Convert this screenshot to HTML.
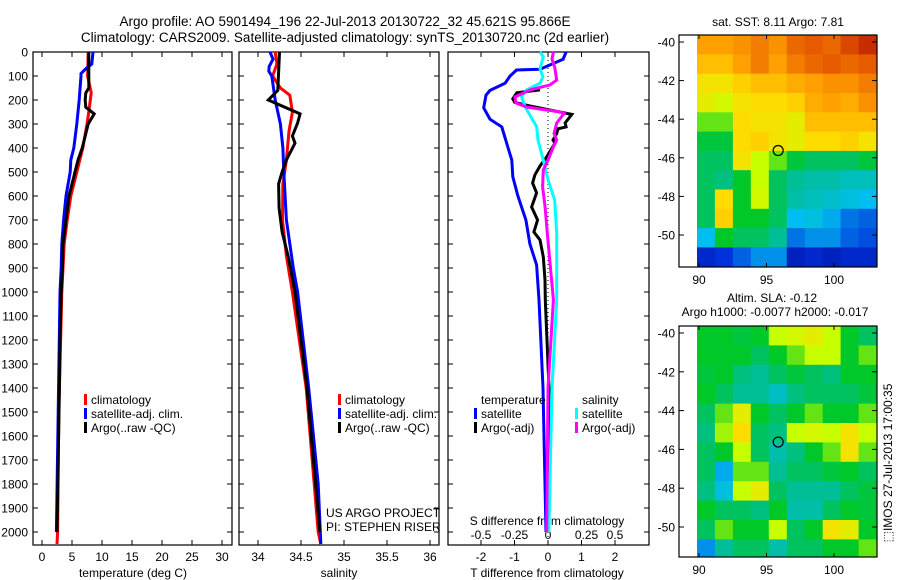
<!DOCTYPE html>
<html><head><meta charset="utf-8">
<style>
html,body{margin:0;padding:0;background:#fff;}
svg{display:block;font-family:"Liberation Sans",sans-serif;}
</style></head>
<body>
<svg id="fig" width="900" height="580" viewBox="0 0 900 580" xmlns="http://www.w3.org/2000/svg">
<text x="345" y="26" font-size="13.5" text-anchor="middle">Argo profile: AO 5901494_196 22-Jul-2013 20130722_32 45.621S 95.866E</text>
<text x="345" y="42" font-size="13.5" text-anchor="middle">Climatology: CARS2009. Satellite-adjusted climatology: synTS_20130720.nc (2d earlier)</text>
<g id="g"></g>
</svg>
<script>
// ---- depth ticks
const depthTicks=[0,100,200,300,400,500,600,700,800,900,1000,1100,1200,1300,1400,1500,1600,1700,1800,1900,2000];
const tempTicks=[0,5,10,15,20,25,30];
const salTicks=[34,34.5,35,35.5,36];
const salTickLabels=['34','34.5','35','35.5','36'];
const tdiffTicks=[-2,-1,0,1,2];
const sdiffTicks=[-0.5,-0.25,0,0.25,0.5];
const sdiffTickLabels=['-0.5','-0.25','0','0.25','0.5'];
// ---- temperature panel
const climTempDepth=[0,100,170,250,300,400,500,600,700,800,900,1000,1500,2000,2050];
const climTempVals=[7.7,7.6,8.2,7.8,7.5,6.8,5.8,4.8,4.2,3.7,3.5,3.3,2.8,2.6,2.5];
const satTempDepth=[0,50,70,90,100,200,300,400,450,500,600,700,800,900,1000,1500,2000];
const satTempVals=[8.5,8.3,7.3,6.5,6.5,6.2,5.8,5.3,4.8,4.7,4.0,3.6,3.3,3.2,3.0,2.7,2.4];
const argoTempDepth=[0,150,170,200,230,258,300,350,400,450,500,600,700,800,900,1000,1200,1400,1700,2000];
const argoTempVals=[7.8,7.8,7.3,7.2,7.3,8.7,7.7,7.2,6.7,6.0,5.5,4.5,4.0,3.5,3.4,3.2,3.0,2.9,2.7,2.5];
// ---- salinity panel
const climSalDepth=[0,50,100,150,180,250,330,450,550,700,850,1000,1400,2000,2050];
const climSalVals=[34.2,34.22,34.17,34.26,34.37,34.40,34.36,34.33,34.29,34.285,34.33,34.40,34.56,34.70,34.73];
const satSalDepth=[0,30,60,80,100,150,200,300,400,500,700,900,1000,1400,1800,2050];
const satSalVals=[34.14,34.175,34.13,34.125,34.16,34.18,34.2,34.26,34.29,34.30,34.33,34.41,34.46,34.59,34.70,34.73];
const argoSalDepth=[0,160,200,258,296,350,380,450,500,550,650,750,850,1000,1400,2000];
const argoSalVals=[34.25,34.23,34.12,34.49,34.46,34.40,34.43,34.33,34.28,34.24,34.245,34.28,34.35,34.43,34.57,34.72];
// ---- difference panel
const satTdiffDepth=[0,30,72,75,100,130,160,180,233,280,312,400,450,520,600,700,800,887,1033,1400,2000];
const satTdiffVals=[0.54,0.45,-0.24,-0.94,-1.13,-1.28,-1.73,-1.85,-1.92,-1.73,-1.38,-1.19,-1.08,-1.05,-0.9,-0.66,-0.54,-0.34,-0.27,-0.15,-0.06];
const argoTdiffDepth=[158,170,195,210,225,260,296,312,320,340,367,380,437,475,512,546,587,646,700,750,783,854,950,1033,1400,2000];
const argoTdiffVals=[-0.24,-0.93,-1.05,-0.99,-0.54,0.71,0.51,0.54,0.3,0.26,0.15,0.21,-0.04,-0.24,-0.39,-0.46,-0.34,-0.49,-0.31,-0.42,-0.24,-0.14,-0.09,-0.08,0.03,-0.03];
const satSdiffDepth=[0,20,70,104,130,158,187,229,312,367,450,533,617,755,1033,1400,2000];
const satSdiffVals=[-0.06,-0.035,-0.06,-0.037,-0.06,-0.16,-0.197,-0.17,-0.084,-0.075,-0.035,0,0.05,0.065,0.065,0.03,0.007];
const argoSdiffDepth=[0,30,62,117,137,158,187,212,229,250,256,296,340,367,395,450,492,562,646,755,1033,1400,2000];
const argoSdiffVals=[0.04,0.03,0.05,0.065,0.015,-0.134,-0.246,-0.24,-0.16,0.09,0.12,0.065,0.045,0.065,0.04,0,-0.035,-0.04,-0.022,-0.005,0.04,0,-0.01];
// ---- maps (rows from -40 southwards, cols from 90E eastwards)
const mapLatTicks=[-40,-42,-44,-46,-48,-50];
const mapLonTicks=[90,95,100];
const sstGrid=[
[0.8,0.8,0.82,0.85,0.82,0.88,0.9,0.88,0.92,0.95],
[0.75,0.75,0.8,0.85,0.8,0.85,0.88,0.9,0.88,0.9],
[0.68,0.68,0.72,0.75,0.75,0.78,0.8,0.82,0.82,0.85],
[0.65,0.62,0.68,0.7,0.7,0.72,0.78,0.8,0.78,0.82],
[0.55,0.55,0.7,0.68,0.68,0.65,0.75,0.75,0.75,0.75],
[0.48,0.48,0.7,0.72,0.68,0.65,0.7,0.7,0.72,0.68],
[0.45,0.45,0.68,0.6,0.55,0.48,0.45,0.45,0.45,0.48],
[0.45,0.42,0.5,0.6,0.45,0.4,0.38,0.38,0.36,0.36],
[0.45,0.7,0.5,0.62,0.45,0.38,0.36,0.34,0.32,0.3],
[0.45,0.72,0.5,0.5,0.45,0.3,0.32,0.28,0.22,0.2],
[0.3,0.5,0.45,0.45,0.4,0.22,0.25,0.25,0.2,0.18],
[0.12,0.15,0.2,0.25,0.25,0.1,0.12,0.1,0.12,0.12]];
const slaGrid=[
[0.5,0.5,0.48,0.5,0.6,0.62,0.65,0.6,0.5,0.45],
[0.5,0.5,0.5,0.45,0.5,0.55,0.6,0.6,0.5,0.55],
[0.48,0.5,0.42,0.4,0.45,0.48,0.45,0.42,0.5,0.5],
[0.5,0.45,0.4,0.4,0.35,0.42,0.45,0.45,0.45,0.48],
[0.45,0.55,0.65,0.5,0.45,0.5,0.55,0.5,0.5,0.55],
[0.42,0.58,0.7,0.45,0.42,0.6,0.62,0.6,0.68,0.6],
[0.45,0.5,0.6,0.45,0.38,0.42,0.5,0.55,0.68,0.55],
[0.45,0.28,0.55,0.55,0.4,0.45,0.45,0.48,0.5,0.45],
[0.42,0.32,0.6,0.65,0.45,0.4,0.4,0.4,0.45,0.48],
[0.5,0.45,0.45,0.42,0.5,0.38,0.38,0.45,0.5,0.48],
[0.45,0.55,0.5,0.5,0.6,0.45,0.5,0.68,0.65,0.5],
[0.25,0.4,0.45,0.45,0.38,0.45,0.45,0.5,0.5,0.55]];
const profileLon=95.866, profileLat=-45.621;

const NS='http://www.w3.org/2000/svg';
const G=document.getElementById('g');
function mk(tag,attrs,parent){const e=document.createElementNS(NS,tag);for(const k in attrs)e.setAttribute(k,attrs[k]);(parent||G).appendChild(e);return e;}
function txt(x,y,s,size,anchor,parent){const e=mk('text',{x:x,y:y,'font-size':size,'text-anchor':anchor||'middle'},parent);e.textContent=s;return e;}

const TOP=52,BOT=545;
const yD=d=>TOP+d*0.24;
const xT=t=>42+6*t;
const xS=s=>258+86*(s-34);
const xDT=t=>548+33.5*t;
const xDS=s=>548+134*s;
const panels=[{x0:33,x1:232,name:'temperature-panel'},{x0:239,x1:439,name:'salinity-panel'},{x0:448,x1:649,name:'difference-panel'}];

function panelFrame(p,xticks,xf){
  const g=mk('g',{});
  
  
  mk('rect',{x:p.x0,y:TOP,width:p.x1-p.x0,height:BOT-TOP,fill:'none',stroke:'#000','stroke-width':1.2},g);
  depthTicks.forEach(d=>{const y=yD(d);mk('line',{x1:p.x0,x2:p.x0+5,y1:y,y2:y,stroke:'#000'},g);mk('line',{x1:p.x1-5,x2:p.x1,y1:y,y2:y,stroke:'#000'},g);});
  xticks.forEach(v=>{const x=xf(v);mk('line',{x1:x,x2:x,y1:TOP,y2:TOP+5,stroke:'#000'},g);mk('line',{x1:x,x2:x,y1:BOT-5,y2:BOT,stroke:'#000'},g);});
  return g;
}
function line(depths,vals,xf,color,name,w){
  const pts=depths.map((d,i)=>xf(vals[i]).toFixed(1)+','+yD(d).toFixed(1)).join(' ');
  const e=mk('polyline',{points:pts,fill:'none',stroke:color,'stroke-width':w||3,'stroke-linejoin':'miter'});
  
  
  return e;
}
// depth labels
const dl=mk('g',{});


depthTicks.forEach(d=>txt(28,yD(d)+4.5,String(d),12,'end',dl));

// Temperature panel
const p1=panelFrame(panels[0],tempTicks,xT);
tempTicks.forEach(t=>txt(xT(t),561,String(t),12,'middle',p1));
txt(133,577,'temperature (deg C)',12,'middle',p1);
line(climTempDepth,climTempVals,xT,'#f00','climatology-temp-line');
line(satTempDepth,satTempVals,xT,'#00f','satellite-temp-line');
line(argoTempDepth,argoTempVals,xT,'#000','argo-temp-line');

// Salinity panel
const p2=panelFrame(panels[1],salTicks,xS);
salTicks.forEach((s,i)=>txt(xS(s),561,salTickLabels[i],12,'middle',p2));
txt(339,577,'salinity',12,'middle',p2);
line(climSalDepth,climSalVals,xS,'#f00','climatology-salinity-line');
line(satSalDepth,satSalVals,xS,'#00f','satellite-salinity-line');
line(argoSalDepth,argoSalVals,xS,'#000','argo-salinity-line');

// Difference panel
const p3=panelFrame(panels[2],tdiffTicks,xDT);
mk('line',{x1:548,x2:548,y1:TOP,y2:BOT,stroke:'#000','stroke-dasharray':'1,3','stroke-width':1},p3);
tdiffTicks.forEach(t=>txt(xDT(t),561,String(t),12,'middle',p3));
txt(547,577,'T difference from climatology',12,'middle',p3);
txt(547,525,'S difference from climatology',12,'middle',p3);
sdiffTicks.forEach((s,i)=>txt(xDS(s)+(s==0.25?5:0),539,sdiffTickLabels[i],12,'middle',p3));
line(satTdiffDepth,satTdiffVals,xDT,'#00f','satellite-t-diff-line');
line(argoTdiffDepth,argoTdiffVals,xDT,'#000','argo-t-diff-line');
line(satSdiffDepth,satSdiffVals,xDS,'#0ff','satellite-s-diff-line');
line(argoSdiffDepth,argoSdiffVals,xDS,'#f0f','argo-s-diff-line');

// Legends
function legendEntry(x,y,color,label,name){
  const g=mk('g',{});
  
  
  mk('rect',{x:x,y:y-10,width:3,height:11,fill:color},g);
  txt(x+7,y,label,12,'start',g);
}
legendEntry(84,404,'#f00','climatology','legend-climatology');
legendEntry(84,418,'#00f','satellite-adj. clim.','legend-satellite-adj');
legendEntry(84,432,'#000','Argo(..raw -QC)','legend-argo');
legendEntry(338,404,'#f00','climatology','legend-sal-climatology');
legendEntry(338,418,'#00f','satellite-adj. clim.','legend-sal-satellite-adj');
legendEntry(338,432,'#000','Argo(..raw -QC)','legend-sal-argo');
txt(481,404,'temperature',12,'start');
txt(582,404,'salinity',12,'start');
legendEntry(474,418,'#00f','satellite','legend-t-satellite');
legendEntry(474,432,'#000','Argo(-adj)','legend-t-argo');
legendEntry(575,418,'#0ff','satellite','legend-s-satellite');
legendEntry(575,432,'#f0f','Argo(-adj)','legend-s-argo');
txt(326,517,'US ARGO PROJECT',12,'start');
txt(326,531,'PI: STEPHEN RISER',12,'start');

// Maps
const stops=[[0,[0,0,130]],[0.15,[0,50,220]],[0.3,[0,190,240]],[0.4,[0,190,150]],[0.5,[0,200,40]],[0.6,[200,255,0]],[0.7,[255,220,0]],[0.8,[255,160,0]],[0.9,[230,90,0]],[1,[170,0,0]]];
function cmap(v){v=Math.max(0,Math.min(1,v));for(let i=1;i<stops.length;i++){if(v<=stops[i][0]){const a=stops[i-1],b=stops[i],f=(v-a[0])/(b[0]-a[0]);const c=a[1].map((x,j)=>Math.round(x+(b[1][j]-x)*f));return 'rgb('+c.join(',')+')';}}return 'rgb(170,0,0)';}
const xL=l=>699+(l-90)*13.5;
function drawMap(grid,top,bottom,latY,name){
  const g=mk('g',{});
  
  
  const cid='clip'+name;
  const cp=mk('clipPath',{id:cid},g);mk('rect',{x:697,y:top,width:180,height:bottom-top},cp);
  const cells=mk('g',{'clip-path':'url(#'+cid+')'},g);
  const lon0=89.85,dLon=13.3/grid[0].length;
  grid.forEach((row,r)=>row.forEach((v,c)=>{
    const la0=-39.64-r, la1=la0-1;
    const x=xL(lon0+c*dLon), y=latY(la0);
    const cell=mk('rect',{x:x.toFixed(1),y:y.toFixed(1),width:(dLon*13.5+0.6).toFixed(1),height:(latY(la1)-y+0.6).toFixed(1),fill:cmap(v)},cells);
    
    
  }));
  mk('rect',{x:679,y:top,width:198,height:bottom-top,fill:'none',stroke:'#000','stroke-width':1.2},g);
  mapLatTicks.forEach(la=>{const y=latY(la);mk('line',{x1:679,x2:684,y1:y,y2:y,stroke:'#000'},g);mk('line',{x1:872,x2:877,y1:y,y2:y,stroke:'#000'},g);txt(675,y+4.5,String(la),12,'end',g);});
  mapLonTicks.forEach(l=>{const x=xL(l);mk('line',{x1:x,x2:x,y1:top,y2:top+4,stroke:'#000'},g);mk('line',{x1:x,x2:x,y1:bottom-4,y2:bottom,stroke:'#000'},g);txt(x,bottom+17,String(l),12,'middle',g);});
  const m=mk('circle',{cx:xL(profileLon),cy:latY(profileLat),r:5,fill:'none',stroke:'#000','stroke-width':1.2},g);
  
  
}
drawMap(sstGrid,35,267,la=>42+(-40-la)*19.3,'sst-map');
drawMap(slaGrid,326,557,la=>333+(-40-la)*19.4,'sla-map');
txt(778,26,'sat. SST: 8.11  Argo: 7.81',12,'middle');
txt(772,302,'Altim. SLA: -0.12',12,'middle');
txt(775,316,'Argo h1000: -0.0077 h2000: -0.017',12,'middle');
const imos=txt(0,0,'\u2B1AIMOS 27-Jul-2013 17:00:35',12,'middle');
imos.setAttribute('transform','translate(892,463) rotate(-90)');


</script>
</body></html>
